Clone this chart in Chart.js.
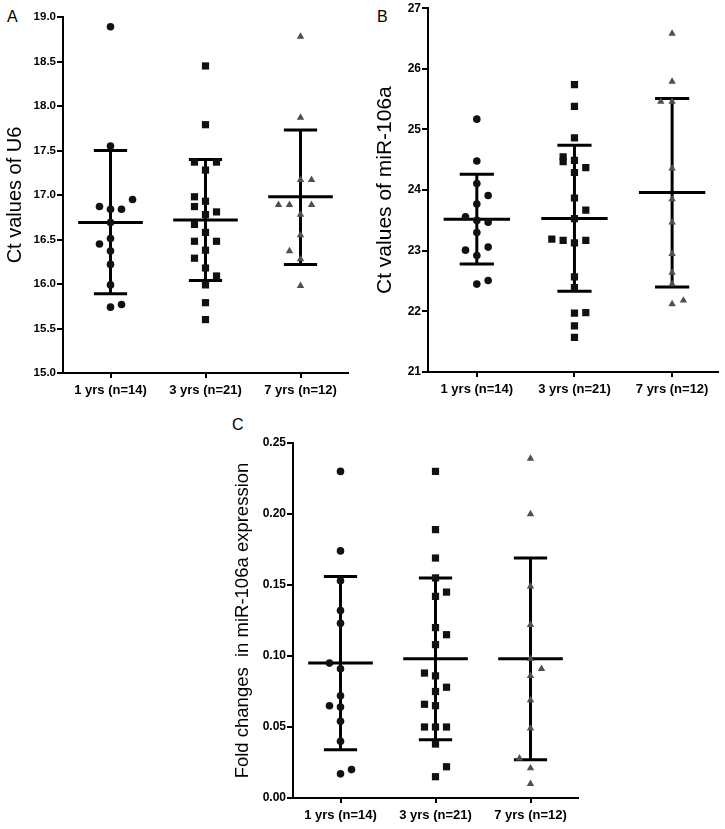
<!DOCTYPE html>
<html>
<head>
<meta charset="utf-8">
<script src="https://cdn.jsdelivr.net/npm/chart.js@4.4.1/dist/chart.umd.min.js"></script>
<style>
  body { margin: 0; background: #fff; width: 725px; height: 829px; position: relative; overflow: hidden; }
  canvas { position: absolute; }
  .lbl { position: absolute; font: 16px "Liberation Sans", Arial, sans-serif; line-height: 16px; color: #000; }
</style>
</head>
<body>
<div class="lbl" style="left:7px;top:9px">A</div>
<div class="lbl" style="left:377px;top:9px">B</div>
<div class="lbl" style="left:232px;top:417px">C</div>
<canvas id="chartA" width="360" height="403" style="left:0;top:0"></canvas>
<canvas id="chartB" width="365" height="402" style="left:360px;top:0"></canvas>
<canvas id="chartC" width="370" height="398" style="left:220px;top:430px"></canvas>
<script>
const categories = ["1 yrs (n=14)", "3 yrs (n=21)", "7 yrs (n=12)"];

// panel A - Ct values of U6
const u6Yr1 = [18.89, 17.55, 16.95, 16.87, 16.84, 16.84, 16.69, 16.51, 16.45, 16.37, 16.22, 15.99, 15.77, 15.74];
const u6Yr1Col = [0, 0, 2, -1, 0, 1, 0, 0, -1, 0, 0, 0, 1, 0];
const u6Yr3 = [18.45, 17.79, 17.37, 17.37, 17.28, 16.98, 16.93, 16.87, 16.81, 16.78, 16.67, 16.58, 16.48, 16.48, 16.38, 16.29, 16.18, 16.09, 15.99, 15.79, 15.60];
const u6Yr3Col = [0, 0, -1, 1, 0, -1, 0, -1, 1, 0, -1, 0, -1, 1, 0, -1, 0, 1, 0, 0, 0];
const u6Yr7 = [18.78, 17.87, 17.17, 17.17, 16.89, 16.89, 16.89, 16.78, 16.55, 16.37, 16.28, 15.98];
const u6Yr7Col = [0, 0, 0, 1, -2, -1, 1, 0, 0, -1, 0, 0];
const u6Mean = [16.69, 16.72, 16.98];
const u6Upper = [17.50, 17.40, 17.73];
const u6Lower = [15.89, 16.04, 16.22];

// panel B - Ct values of miR-106a
const ctYr1 = [25.17, 24.48, 24.11, 23.91, 23.77, 23.56, 23.50, 23.47, 23.30, 23.06, 23.01, 22.92, 22.51, 22.45];
const ctYr1Col = [0, 0, 0, 1, 0, -1, 0, 1, 0, 1, -1, 0, 1, 0];
const ctYr3 = [25.74, 25.38, 24.86, 24.55, 24.47, 24.49, 24.37, 24.29, 23.87, 23.67, 23.53, 23.19, 23.17, 23.17, 23.13, 22.57, 22.39, 21.97, 21.98, 21.76, 21.57];
const ctYr3Col = [0, 0, 0, -1, -1, 0, 1, 0, 0, 1, 0, -2, -1, 1, 0, 0, 0, 0, 1, 0, 0];
const ctYr7 = [26.58, 25.79, 25.46, 25.46, 24.36, 23.85, 23.47, 22.95, 22.64, 22.45, 22.12, 22.18];
const ctYr7Col = [0, 0, -1, 0, 0, 0, 0, 0, 0, 0, 0, 1];
const ctMean = [23.52, 23.53, 23.96];
const ctUpper = [24.26, 24.74, 25.51];
const ctLower = [22.78, 22.33, 22.40];

// panel C - fold changes
const fcYr1 = [0.230, 0.174, 0.153, 0.132, 0.123, 0.095, 0.091, 0.072, 0.065, 0.064, 0.054, 0.040, 0.020, 0.017];
const fcYr1Col = [0, 0, 0, 0, 0, -1, 0, 0, -1, 0, 0, 0, 1, 0];
const fcYr3 = [0.230, 0.189, 0.169, 0.155, 0.145, 0.142, 0.120, 0.115, 0.108, 0.088, 0.086, 0.078, 0.075, 0.066, 0.065, 0.050, 0.050, 0.050, 0.038, 0.022, 0.015];
const fcYr3Col = [0, 0, 0, 0, 1, 0, 0, 1, 0, -1, 0, 1, 0, -1, 0, -1, 0, 1, 0, 1, 0];
const fcYr7 = [0.239, 0.200, 0.149, 0.122, 0.098, 0.091, 0.086, 0.069, 0.049, 0.028, 0.021, 0.010];
const fcYr7Col = [0, 0, 0, 0, 0, 1, 0, 0, 0, -1, 0, 0];
const fcMean = [0.095, 0.098, 0.098];
const fcUpper = [0.156, 0.155, 0.169];
const fcLower = [0.034, 0.041, 0.027];

const COL_STEP = 0.116;   // horizontal spacing of stacked dots, in category units
const MEAN_HALF = 0.34;
const CAP_HALF = 0.175;
const FONT = '"Liberation Sans", Arial, sans-serif';

const pointStyles = ["circle", "rect", "triangle"];
const pointSizes = [3.8, 5.1, 4.3];
const pointColors = ["#111", "#111", "#505050"];

const errorBars = {
  id: "errorBars",
  beforeDatasetsDraw(chart, args, opts) {
    const { ctx, scales: { x, y } } = chart;
    const seg = (x1, y1, x2, y2) => {
      ctx.beginPath();
      ctx.moveTo(x.getPixelForValue(x1), y.getPixelForValue(y1));
      ctx.lineTo(x.getPixelForValue(x2), y.getPixelForValue(y2));
      ctx.stroke();
    };
    ctx.save();
    ctx.strokeStyle = "#000";
    ctx.lineWidth = 3;
    opts.mean.forEach((m, i) => {
      seg(i, opts.lower[i], i, opts.upper[i]);
      seg(i - CAP_HALF, opts.upper[i], i + CAP_HALF, opts.upper[i]);
      seg(i - CAP_HALF, opts.lower[i], i + CAP_HALF, opts.lower[i]);
      seg(i - MEAN_HALF, m, i + MEAN_HALF, m);
    });
    ctx.restore();
  }
};

const makePanel = (id, p) => {
  const datasets = p.groups.map((vals, g) => ({
    data: vals.map((v, i) => ({ x: g + p.cols[g][i] * COL_STEP, y: v })),
    pointStyle: pointStyles[g],
    pointRadius: pointSizes[g],
    pointBackgroundColor: pointColors[g],
    pointBorderWidth: 0,
    showLine: false,
  }));

  new Chart(document.getElementById(id), {
    type: "scatter",
    data: { datasets },
    plugins: [errorBars],
    options: {
      responsive: false,
      animation: false,
      layout: { padding: { top: p.padTop, right: p.padRight, bottom: 0, left: 0 } },
      plugins: {
        legend: { display: false },
        tooltip: { enabled: false },
        errorBars: { mean: p.mean, upper: p.upper, lower: p.lower },
      },
      scales: {
        x: {
          type: "linear",
          min: -0.5,
          max: p.xMax,
          afterBuildTicks: (s) => { s.ticks = categories.map((c, i) => ({ value: i })); },
          afterFit: (s) => { s.height = 30; },
          ticks: {
            callback: (v) => categories[v],
            color: "#000",
            padding: 5,
            maxRotation: 0,
            font: { family: FONT, size: 13, weight: "bold" },
          },
          grid: { display: true, drawOnChartArea: false, drawTicks: true, tickLength: 5, color: "#000", lineWidth: 2 },
          border: { display: true, color: "#000", width: 2 },
        },
        y: {
          min: p.yMin,
          max: p.yMax,
          afterFit: (s) => { s.width = p.axisWidth; },
          ticks: {
            stepSize: p.yStep,
            callback: (v) => v.toFixed(p.decimals),
            color: "#000",
            padding: 1,
            font: { family: FONT, size: p.tickSize, weight: "bold" },
          },
          grid: { display: true, drawOnChartArea: false, drawTicks: true, tickLength: 6, color: "#000", lineWidth: 2 },
          border: { display: true, color: "#000", width: 2 },
          title: {
            display: true,
            text: p.title,
            color: "#000",
            padding: { top: p.titlePad, bottom: 0 },
            font: { family: FONT, size: p.titleSize, weight: "normal" },
          },
        },
      },
    },
  });
};

makePanel("chartA", {
  groups: [u6Yr1, u6Yr3, u6Yr7],
  cols: [u6Yr1Col, u6Yr3Col, u6Yr7Col],
  mean: u6Mean, upper: u6Upper, lower: u6Lower,
  yMin: 15, yMax: 19, yStep: 0.5, decimals: 1,
  title: "Ct values of U6", titleSize: 20, titlePad: 3, tickSize: 11.5,
  axisWidth: 63, padTop: 17, padRight: 12, xMax: 2.5,
});

makePanel("chartB", {
  groups: [ctYr1, ctYr3, ctYr7],
  cols: [ctYr1Col, ctYr3Col, ctYr7Col],
  mean: ctMean, upper: ctUpper, lower: ctLower,
  yMin: 21, yMax: 27, yStep: 1, decimals: 0,
  title: "Ct values of miR-106a", titleSize: 21, titlePad: 13, tickSize: 12,
  axisWidth: 68, padTop: 7, padRight: 7, xMax: 2.47,
});

makePanel("chartC", {
  groups: [fcYr1, fcYr3, fcYr7],
  cols: [fcYr1Col, fcYr3Col, fcYr7Col],
  mean: fcMean, upper: fcUpper, lower: fcLower,
  yMin: 0, yMax: 0.25, yStep: 0.05, decimals: 2,
  title: "Fold changes  in miR-106a expression", titleSize: 18.5, titlePad: 12, tickSize: 12,
  axisWidth: 73, padTop: 13, padRight: 12, xMax: 2.5,
});
</script>
</body>
</html>
